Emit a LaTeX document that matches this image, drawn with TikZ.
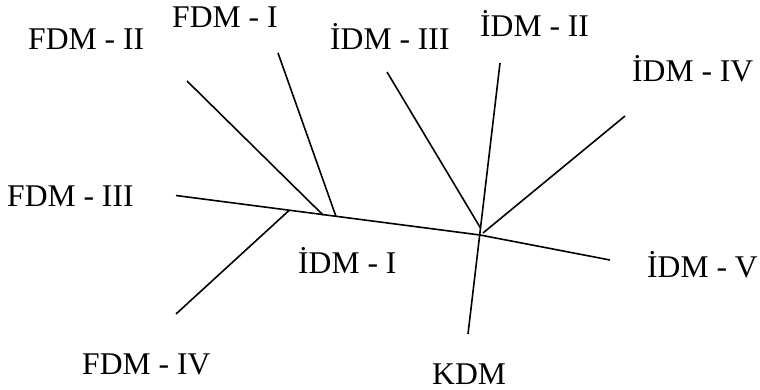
\documentclass[tikz,border=0pt]{standalone}
\usepackage{fontspec}
\setmainfont{Liberation Serif}
\begin{document}
\begin{tikzpicture}[x=1pt,y=-1pt,
  lbl/.style={anchor=base west,inner sep=0pt,font=\fontsize{31.6}{36}\selectfont},
  ln/.style={line width=1.6pt,line cap=butt}]
\useasboundingbox (0,0) rectangle (760,390);
% labels
\node[lbl] (fdm2) at (28,50) {FDM - II};
\node[lbl] (fdm1) at (172,28) {FDM - I};
\node[lbl] (idm3) at (330,50) {İDM - III};
\node[lbl] (idm2) at (480,37) {İDM - II};
\node[lbl] (idm4) at (632,82) {İDM - IV};
\node[lbl] (fdm3) at (7,207) {FDM - III};
\node[lbl] (idm1) at (298,273) {İDM - I};
\node[lbl] (idm5) at (647,277) {İDM - V};
\node[lbl] (fdm4) at (82,374) {FDM - IV};
\node[lbl] (kdm) at (432,384) {KDM};
% line ends
\coordinate (m0) at (176,195.5);
\coordinate (mj) at (480,235);
\coordinate (m1) at (610,260);
\coordinate (a2) at (187,81);   \coordinate (b2) at (323,215);
\coordinate (a1) at (278,53);   \coordinate (b1) at (336,216.5);
\coordinate (a4) at (176,314);  \coordinate (b4) at (289,210.5);
\coordinate (c3) at (387,72);   \coordinate (d3) at (480.5,228);
\coordinate (c4) at (625,116);  \coordinate (d4) at (483,233);
\coordinate (k0) at (500,63);   \coordinate (k1) at (468,334);
% lines
\draw[ln] (m0) -- (mj) -- (m1);
\draw[ln] (a2) -- (b2);
\draw[ln] (a1) -- (b1);
\draw[ln] (a4) -- (b4);
\draw[ln] (c3) -- (d3);
\draw[ln] (c4) -- (d4);
\draw[ln] (k0) -- (k1);
\end{tikzpicture}
\end{document}
